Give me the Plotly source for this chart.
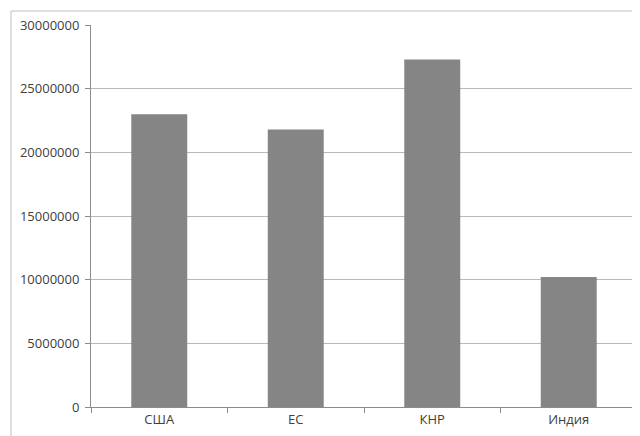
import plotly.graph_objects as go

categories = ["США", "ЕС", "КНР", "Индия"]
values = [23000000, 21800000, 27300000, 10200000]
y_ticks = [0, 5000000, 10000000, 15000000, 20000000, 25000000, 30000000]

fig = go.Figure(go.Bar(x=categories, y=values, marker=dict(color="#858585", line=dict(width=0)),
                       width=0.41))

# page body has an 8px margin, so the figure is sized/offset to compensate
fig.update_layout(
    width=632, height=428,
    margin=dict(l=83, r=3, t=17, b=29),
    paper_bgcolor="white", plot_bgcolor="white",
    font=dict(family="Open Sans", size=13, color="#404040"),
    showlegend=False,
    bargap=0.59,
)
fig.update_yaxes(range=[0, 30000000], tickvals=y_ticks, tickformat="d",
                 showgrid=True, gridcolor="#b8b8b8", gridwidth=1,
                 showline=True, linecolor="#8c8c8c", linewidth=1,
                 ticks="outside", ticklen=5, tickcolor="#8c8c8c", zeroline=False,
                 ticklabelstandoff=3)
fig.update_xaxes(showline=True, linecolor="#8c8c8c", linewidth=1,
                 ticks="outside", ticklen=5, tickcolor="#8c8c8c", tickson="boundaries",
                 showgrid=False)

fig.add_shape(type="rect", xref="paper", yref="paper",
              x0=(11 - 91) / 546, x1=1.2, y0=-0.3, y1=1 + 14 / 382,
              line=dict(color="#c0c0c0", width=1), fillcolor="rgba(0,0,0,0)", layer="below")

fig.write_html("out.html")
